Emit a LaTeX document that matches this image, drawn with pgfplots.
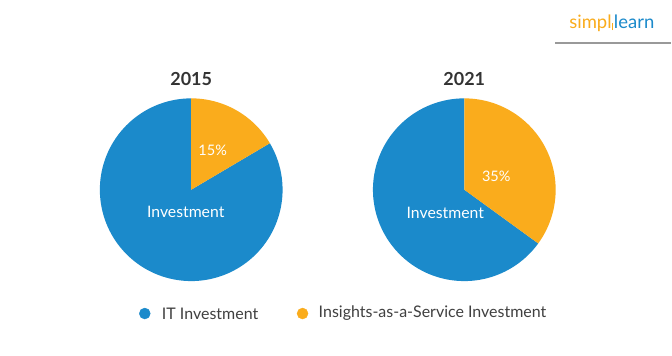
\documentclass[border=0pt]{standalone}
\usepackage{pgfplots}
\pgfplotsset{compat=1.18}
\usepackage{fontspec}
\setmainfont{Lato}
\definecolor{itblue}{RGB}{27,138,203}
\definecolor{insorange}{RGB}{250,172,28}
\definecolor{titlegray}{RGB}{51,51,51}
\definecolor{leggray}{RGB}{64,64,64}
% shares of Insights-as-a-Service (percent of the pie)
\def\insA{16.5}
\def\insB{35}
\begin{document}
\begin{tikzpicture}
\begin{axis}[
  width=672pt, height=356pt, scale only axis,
  xmin=0, xmax=672, ymin=0, ymax=356, y dir=reverse,
  hide axis, clip=false,
  axis background/.style={fill=white},
]
% ---- 2015 pie ----
\addplot[draw=none, fill=itblue, domain={90-360}:{90-3.6*\insA}, samples=120]
  ({191.5+91.5*cos(x)},{190-91.5*sin(x)}) -- (axis cs:191.5,190) -- cycle;
\addplot[draw=none, fill=insorange, domain={90-3.6*\insA}:90, samples=60]
  ({191.5+91.5*cos(x)},{190-91.5*sin(x)}) -- (axis cs:191.5,190) -- cycle;
% ---- 2021 pie ----
\addplot[draw=none, fill=itblue, domain={90-360}:{90-3.6*\insB}, samples=120]
  ({465+91.5*cos(x)},{190-91.5*sin(x)}) -- (axis cs:465,190) -- cycle;
\addplot[draw=none, fill=insorange, domain={90-3.6*\insB}:90, samples=60]
  ({465+91.5*cos(x)},{190-91.5*sin(x)}) -- (axis cs:465,190) -- cycle;
% ---- legend dots ----
\addplot[only marks, mark=*, mark size=5.5pt, color=itblue] coordinates {(145,314)};
\addplot[only marks, mark=*, mark size=5.5pt, color=insorange] coordinates {(303,314)};
% ---- texts ----
\node[font=\fontsize{18}{20}\selectfont\bfseries, text=titlegray] at (axis cs:191.5,79) {2015};
\node[font=\fontsize{18}{20}\selectfont\bfseries, text=titlegray] at (axis cs:465,79) {2021};
\node[font=\fontsize{14.5}{17}\selectfont, text=white] at (axis cs:213,151) {15\%};
\node[font=\fontsize{15.8}{17}\selectfont, text=white] at (axis cs:186,212) {Investment};
\node[font=\fontsize{14.5}{17}\selectfont, text=white] at (axis cs:497,177) {35\%};
\node[font=\fontsize{15.8}{17}\selectfont, text=white] at (axis cs:446,213) {Investment};
\node[font=\fontsize{16}{18}\selectfont, text=leggray, anchor=west, inner sep=0pt] at (axis cs:162,314) {IT Investment};
\node[font=\fontsize{16}{18}\selectfont, text=leggray, anchor=west, inner sep=0pt] at (axis cs:319,314) {Insights-as-a-Service Investment};
% ---- logo ----
\node[font=\fontsize{18.5}{21}\selectfont, anchor=west, inner sep=0pt] at (axis cs:570,23)
  {\textcolor{insorange}{simpl}\kern0.5pt\textcolor{insorange}{\rule[-2pt]{1.3pt}{7pt}}\kern0.5pt\textcolor{itblue}{learn}};
\draw[line width=2pt, color=black!40] (axis cs:556,43) -- (axis cs:672,43);
\end{axis}
\end{tikzpicture}
\end{document}
